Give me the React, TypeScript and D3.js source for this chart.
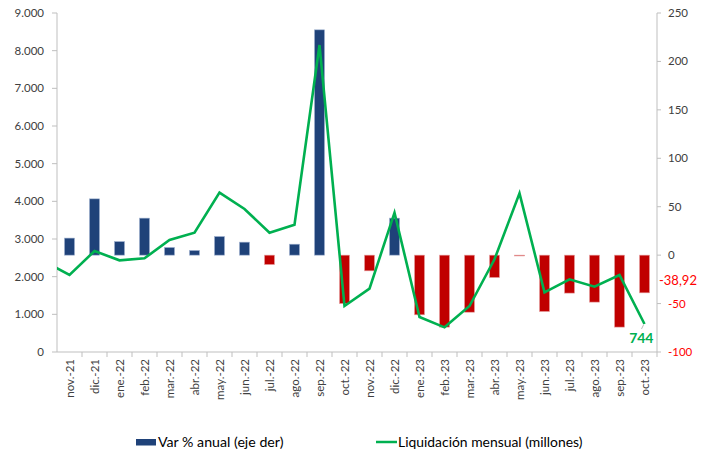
import React from "react";
import * as d3 from "d3";

// Months shown on the category axis
const months = [
  "nov.-21", "dic.-21", "ene.-22", "feb.-22", "mar.-22", "abr.-22",
  "may.-22", "jun.-22", "jul.-22", "ago.-22", "sep.-22", "oct.-22",
  "nov.-22", "dic.-22", "ene.-23", "feb.-23", "mar.-23", "abr.-23",
  "may.-23", "jun.-23", "jul.-23", "ago.-23", "sep.-23", "oct.-23",
];

// Monthly settlement (millions) – left axis
const liquidacion = [
  2044, 2681, 2434, 2487, 2973, 3168, 4230, 3797, 3168, 3380, 8150, 1221,
  1681, 3699, 929, 655, 1221, 2461, 4213, 1585, 1930, 1734, 2044, 744,
];
// Value for the month before the window (line enters from the left edge)
const liquidacionPrev = 2400;

// Year-on-year % change – right axis
const varAnual = [
  17.6, 58.1, 14.0, 38.2, 7.9, 4.8, 19.2, 13.4, -9.7, 11.3, 232.6, -50.0,
  -16.2, 38.2, -61.6, -74.3, -58.9, -23.1, -0.5, -58.2, -39.2, -48.5, -74.3, -38.92,
];

const leftTicks = [0, 1000, 2000, 3000, 4000, 5000, 6000, 7000, 8000, 9000];
const rightTicks = [-100, -50, 0, 50, 100, 150, 200, 250];

const W = 711;
const H = 452;
const plotL = 57;
const plotR = 657;
const plotT = 13;
const plotB = 352;

const FONT = "Lato, 'Open Sans', sans-serif";
const BLUE = "#1F4279";
const RED = "#C00000";
const GREEN = "#00B050";
const AXIS = "#BFBFBF";
const TEXT = "#404040";

const fmtThousands = (v: number) =>
  d3.format(",")(v).replace(/,/g, ".");
const fmtDecimal = (v: number) => String(v).replace(".", ",");

export default function App() {
  const x = d3.scaleBand<string>().domain(months).range([plotL, plotR]);
  const bw = x.bandwidth();
  const cx = (m: string) => (x(m) as number) + bw / 2;

  const yL = d3.scaleLinear().domain([0, 9000]).range([plotB, plotT]);
  const yR = d3.scaleLinear().domain([-100, 250]).range([plotB, plotT]);

  const barW = 10;

  const linePts: [number, number][] = [
    [cx(months[0]) - bw, yL(liquidacionPrev)],
    ...months.map((m, i) => [cx(m), yL(liquidacion[i])] as [number, number]),
  ];
  const linePath = d3.line()(linePts) as string;

  const last = months.length - 1;
  const lastX = cx(months[last]);
  const lastY = yL(liquidacion[last]);

  return (
    <svg
      width={W}
      height={H}
      style={{ position: "absolute", left: 0, top: 0, background: "#fff" }}
      fontFamily={FONT}
    >
      <defs>
        <clipPath id="plotClip">
          <rect x={plotL} y={0} width={plotR - plotL} height={H} />
        </clipPath>
      </defs>

      {/* Left axis */}
      <line x1={plotL} x2={plotL} y1={plotT} y2={plotB} stroke={AXIS} strokeWidth={1} />
      {leftTicks.map((t) => (
        <g key={"l" + t}>
          <line x1={plotL - 5} x2={plotL} y1={yL(t)} y2={yL(t)} stroke={AXIS} />
          <text
            x={plotL - 13}
            y={yL(t)}
            dy="0.35em"
            textAnchor="end"
            fontSize={11.5}
            fill={TEXT}
          >
            {fmtThousands(t)}
          </text>
        </g>
      ))}

      {/* Right axis */}
      <line x1={plotR} x2={plotR} y1={plotT} y2={plotB} stroke={AXIS} strokeWidth={1} />
      {rightTicks.map((t) => (
        <g key={"r" + t}>
          <line x1={plotR} x2={plotR + 4} y1={yR(t)} y2={yR(t)} stroke={AXIS} />
          <text
            x={plotR + 11}
            y={yR(t)}
            dy="0.35em"
            fontSize={11.5}
            fill={t < 0 ? "#FF0000" : TEXT}
          >
            {t}
          </text>
        </g>
      ))}

      {/* Category axis */}
      <line x1={plotL} x2={plotR} y1={plotB} y2={plotB} stroke={AXIS} />
      {months.map((m) => (
        <line
          key={"t" + m}
          x1={(x(m) as number) + bw}
          x2={(x(m) as number) + bw}
          y1={plotB}
          y2={plotB + 5}
          stroke={AXIS}
        />
      ))}
      {months.map((m) => (
        <text
          key={"xl" + m}
          transform={`translate(${cx(m)},${plotB + 7}) rotate(-90)`}
          textAnchor="end"
          dy="0.35em"
          fontSize={11.5}
          fill={TEXT}
        >
          {m}
        </text>
      ))}

      {/* Year-on-year bars */}
      {months.map((m, i) => {
        const v = varAnual[i];
        const y0 = yR(0);
        const y1 = yR(v);
        return (
          <rect
            key={"b" + m}
            x={cx(m) - barW / 2}
            y={Math.min(y0, y1)}
            width={barW}
            height={Math.max(Math.abs(y1 - y0), 0.8)}
            fill={v >= 0 ? BLUE : RED}
            stroke={v >= 0 ? "#9DB0CF" : "#E6A0A0"}
            strokeWidth={0.6}
          />
        );
      })}

      {/* Monthly settlement line */}
      <path
        d={linePath}
        fill="none"
        stroke={GREEN}
        strokeWidth={2.6}
        strokeLinejoin="miter"
        clipPath="url(#plotClip)"
      />

      {/* Last-value labels */}
      <line
        x1={lastX - 1}
        y1={lastY + 1}
        x2={lastX - 3}
        y2={lastY + 5}
        stroke="#A6A6A6"
        strokeWidth={0.8}
      />
      <text
        x={lastX + 9}
        y={lastY + 19}
        textAnchor="end"
        fontSize={14}
        fontWeight="bold"
        fill={GREEN}
      >
        {liquidacion[last]}
      </text>
      <text
        x={plotR + 2}
        y={yR(varAnual[last]) - 12}
        dy="0.35em"
        fontSize={13}
        fill="#FF0000"
      >
        {fmtDecimal(varAnual[last])}
      </text>

      {/* Legend */}
      <rect x={136} y={439} width={20} height={6.5} fill={BLUE} />
      <text x={158} y={442.5} dy="0.35em" fontSize={14.2} fill="#000">
        Var % anual (eje der)
      </text>
      <line x1={376} x2={397} y1={442} y2={442} stroke={GREEN} strokeWidth={2.5} />
      <text x={398} y={442.5} dy="0.35em" fontSize={13.9} fill="#000">
        Liquidación mensual (millones)
      </text>
    </svg>
  );
}
